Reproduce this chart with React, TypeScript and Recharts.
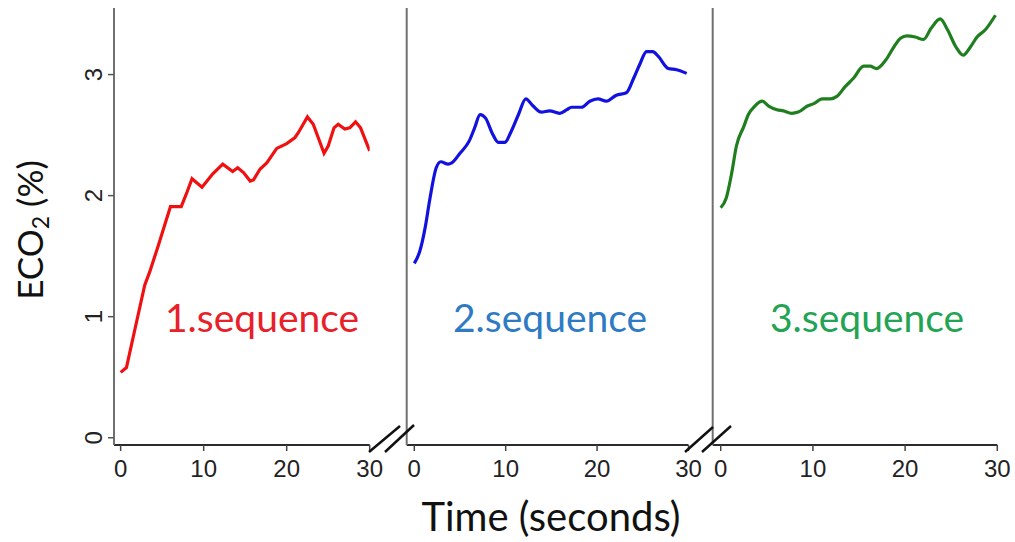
import { LineChart, Line, XAxis, YAxis } from "recharts"

// 1. sequence (red)
const seq1Time = [0, 0.7, 1.7, 2.9, 3.5, 4.5, 6.0, 7.3, 8.0, 8.6, 9.8, 11.1, 12.3, 13.5, 14.1, 14.8, 15.6, 16.0, 16.8, 17.6, 18.8, 20.0, 21.0, 21.4, 22.5, 23.2, 24.5, 25.0, 25.7, 26.2, 27.0, 27.6, 28.3, 28.9, 30.0]
const seq1Eco2 = [0.54, 0.58, 0.89, 1.26, 1.37, 1.58, 1.91, 1.91, 2.03, 2.14, 2.07, 2.18, 2.26, 2.2, 2.23, 2.19, 2.12, 2.13, 2.22, 2.27, 2.39, 2.43, 2.48, 2.52, 2.65, 2.59, 2.35, 2.41, 2.56, 2.59, 2.55, 2.56, 2.61, 2.56, 2.37]

// 2. sequence (blue)
const seq2Time = [0, 0.6, 1.2, 1.7, 2.4, 2.9, 3.7, 4.1, 5.0, 6.0, 6.6, 7.2, 7.8, 8.5, 9.2, 9.9, 10.6, 11.4, 12.2, 13.0, 13.9, 14.8, 15.9, 16.7, 17.2, 18.3, 19.2, 20.1, 21.0, 22.1, 23.2, 24.0, 24.7, 25.4, 26.1, 26.7, 27.8, 28.7, 29.8]
const seq2Eco2 = [1.44, 1.54, 1.74, 1.97, 2.23, 2.28, 2.26, 2.27, 2.35, 2.45, 2.56, 2.67, 2.64, 2.52, 2.44, 2.44, 2.53, 2.67, 2.8, 2.74, 2.69, 2.7, 2.68, 2.71, 2.73, 2.73, 2.78, 2.8, 2.78, 2.83, 2.85, 2.97, 3.09, 3.19, 3.19, 3.15, 3.05, 3.04, 3.01]

// 3. sequence (green)
const seq3Time = [0, 0.6, 1.2, 1.7, 2.5, 3.0, 3.7, 4.5, 5.2, 6.1, 6.8, 7.7, 8.4, 9.4, 10.1, 11.0, 11.9, 12.6, 13.5, 14.4, 15.5, 16.2, 16.9, 17.9, 18.8, 19.5, 20.2, 21.1, 22.0, 22.8, 23.8, 24.6, 25.5, 26.3, 27.1, 27.8, 28.7, 29.8]
const seq3Eco2 = [1.9, 1.98, 2.19, 2.41, 2.57, 2.67, 2.74, 2.78, 2.74, 2.71, 2.7, 2.68, 2.69, 2.74, 2.76, 2.8, 2.8, 2.82, 2.9, 2.97, 3.07, 3.07, 3.05, 3.12, 3.23, 3.3, 3.32, 3.31, 3.29, 3.38, 3.46, 3.37, 3.23, 3.16, 3.23, 3.31, 3.37, 3.49]

const xTicks = [0, 10, 20, 30]
const yTicksLabelled = [0, 1, 2, 3]
const yTicksMinor = [0.5, 1, 1.5, 2, 2.5, 3, 3.5]
const sequenceNames = ["1.sequence", "2.sequence", "3.sequence"]

const W = 1015
const H = 542
const calibriLike = "Lato, 'Open Sans', sans-serif"
const arialLike = "'Liberation Sans', Arial, sans-serif"

const toRows = (t: number[], v: number[]) => t.map((time, i) => ({ time, eco2: v[i] }))

const XTick = ({ x, y, payload }: any) => (
  <text x={x} y={y + 24} textAnchor="middle" fontSize={24} fontFamily={arialLike} fill="#222">
    {payload.value}
  </text>
)

const YTickRotated = ({ x, y, payload }: any) => (
  <text
    x={x}
    y={y}
    transform={`rotate(-90 ${x} ${y})`}
    textAnchor="middle"
    fontSize={24}
    fontFamily={arialLike}
    fill="#222"
  >
    {payload.value}
  </text>
)

interface PanelProps {
  data: { time: number; eco2: number }[]
  color: string
  curve: "linear" | "monotone"
  left: number
  right: number
  xMin: number
  first?: boolean
}

function Panel({ data, color, curve, left, right, xMin, first }: PanelProps) {
  return (
    <div style={{ position: "absolute", left: 0, top: 0 }}>
      <LineChart width={W} height={H} data={data} margin={{ top: 8, bottom: 67, left: left - 60, right: W - right }}>
        <XAxis
          dataKey="time"
          type="number"
          domain={[xMin, 30]}
          allowDataOverflow
          ticks={xTicks}
          tick={<XTick />}
          tickSize={6}
          tickMargin={2}
          height={30}
          axisLine={{ stroke: "#2b2b2b", strokeWidth: 2 }}
          tickLine={{ stroke: "#444", strokeWidth: 1.5 }}
        />
        <YAxis
          type="number"
          domain={[-0.06, 3.55]}
          allowDataOverflow
          ticks={first ? yTicksLabelled : yTicksMinor}
          tick={first ? <YTickRotated /> : false}
          tickSize={6}
          tickMargin={6}
          width={60}
          axisLine={{ stroke: "#707070", strokeWidth: 2 }}
          tickLine={{ stroke: "#555", strokeWidth: 1.5 }}
        />
        <Line
          type={curve}
          dataKey="eco2"
          stroke={color}
          strokeWidth={3.2}
          dot={false}
          isAnimationActive={false}
        />
      </LineChart>
    </div>
  )
}

export default function App() {
  return (
    <div style={{ position: "absolute", left: 0, top: 0, width: W, height: H, background: "#fff" }}>
      <Panel data={toRows(seq1Time, seq1Eco2)} color="#f01010" curve="linear" left={114} right={369.7} xMin={-0.8} first />
      <Panel data={toRows(seq2Time, seq2Eco2)} color="#1212e0" curve="monotone" left={406.7} right={688.5} xMin={-0.83} />
      <Panel data={toRows(seq3Time, seq3Eco2)} color="#1f7f1f" curve="monotone" left={712.7} right={997.3} xMin={-0.87} />
      <svg width={W} height={H} style={{ position: "absolute", left: 0, top: 0, pointerEvents: "none" }}>
        {/* axis breaks */}
        <g stroke="#111" strokeWidth={2.5}>
          <line x1={369} y1={452} x2={400} y2={426} />
          <line x1={385} y1={452} x2={414} y2={425} />
          <line x1={685} y1={452} x2={713} y2={427} />
          <line x1={702} y1={452} x2={731} y2={426} />
        </g>
        <g fontFamily={calibriLike} fontSize={39}>
          <text x={165} y={332} fill="#e8202a">{sequenceNames[0]}</text>
          <text x={453} y={332} fill="#2e7bc4">{sequenceNames[1]}</text>
          <text x={770} y={332} fill="#23a455">{sequenceNames[2]}</text>
        </g>
        <text x={551} y={531} textAnchor="middle" fontFamily={calibriLike} fontSize={40} fill="#111">
          Time (seconds)
        </text>
        <text
          x={43}
          y={230}
          transform="rotate(-90 43 230)"
          textAnchor="middle"
          fontFamily={calibriLike}
          fontSize={35}
          fill="#111"
        >
          ECO<tspan fontSize={23} dy={6}>2</tspan>
          <tspan dy={-6}> (%)</tspan>
        </text>
      </svg>
    </div>
  )
}
